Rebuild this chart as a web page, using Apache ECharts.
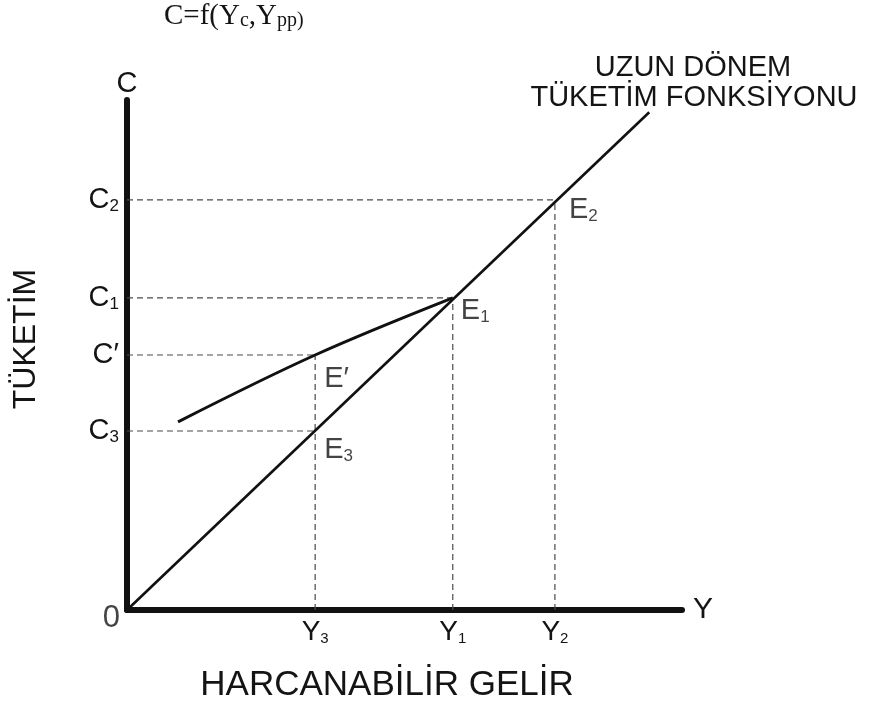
<!DOCTYPE html>
<html>
<head>
<meta charset="utf-8">
<script src="https://cdn.jsdelivr.net/npm/echarts@6.0.0/dist/echarts.min.js"></script>
<style>
  html, body { margin: 0; padding: 0; background: #ffffff; }
  #chart { width: 870px; height: 709px; }
</style>
</head>
<body>
<div id="chart"></div>
<script>
// Disposable income levels marked on the horizontal axis
const incomeNames = ['Y3', 'Y1', 'Y2'];
const incomeValues = [33.9, 58.7, 77.1];

// Consumption levels marked on the vertical axis
const consumptionNames = ['C3', 'C\u2032', 'C1', 'C2'];
const consumptionValues = [35.1, 50.0, 61.2, 80.4];

// Long-run consumption function, starting at the origin
const longRunLine = [[0, 0], [94.1, 97.6]];

// Short-run consumption function
const shortRunLine = [[9.2, 36.9], [33.9, 50.0], [58.7, 61.2]];

// Labelled points (income, consumption)
const pointNames = ['E3', 'E\u2032', 'E1', 'E2'];
const pointIncome = [33.9, 33.9, 58.7, 77.1];
const pointConsumption = [35.1, 50.0, 61.2, 80.4];

const INK = '#141414';
const SANS = '"Liberation Sans", Arial, sans-serif';
const SERIF = '"Liberation Serif", "Times New Roman", serif';

// "C3" -> "{b|C}{s|3}" ; a trailing digit is set as a subscript
function subscripted(name) {
  const m = /^(.*?)(\d+)$/.exec(name);
  return m ? '{b|' + m[1] + '}{s|' + m[2] + '}' : '{b|' + name + '}';
}
function labelRich(big, small) {
  return {
    b: { fontSize: big, fontFamily: SANS, color: INK, fontWeight: 'normal', verticalAlign: 'bottom', lineHeight: big },
    s: { fontSize: small, fontFamily: SANS, color: INK, fontWeight: 'normal', verticalAlign: 'bottom', lineHeight: big }
  };
}

// Dashed guides from each labelled point to both axes
const guideSeries = [];
const dashStyle = { color: '#4a4a4a', width: 1.2, type: [6, 4] };
pointIncome.forEach((x, i) => {
  const y = pointConsumption[i];
  guideSeries.push({ type: 'line', data: [[0, y], [x, y]] });
});
incomeValues.forEach((x) => {
  let top = 0;
  pointIncome.forEach((px, i) => { if (px === x) top = Math.max(top, pointConsumption[i]); });
  guideSeries.push({ type: 'line', data: [[x, 0], [x, top]] });
});
guideSeries.forEach((s) => {
  s.symbol = 'none';
  s.silent = true;
  s.lineStyle = dashStyle;
  s.z = 1;
});

// Label placement around each point, in pixels
const pointLabelOffsets = [[9, 5], [9, 9], [8, -1], [14, -4]];

const chart = echarts.init(document.getElementById('chart'), null, { renderer: 'canvas' });

chart.setOption({
  animation: false,
  backgroundColor: '#ffffff',
  title: {
    text: '{m|C=f(Y}{s|c}{m|,Y}{s|pp)}',
    left: 164,
    top: 0,
    padding: 0,
    textStyle: {
      fontWeight: 'normal',
      rich: {
        m: { fontSize: 29, fontFamily: SERIF, fontWeight: 'normal', color: INK, verticalAlign: 'bottom', lineHeight: 31 },
        s: { fontSize: 20, fontFamily: SERIF, fontWeight: 'normal', color: INK, verticalAlign: 'bottom', lineHeight: 31 }
      }
    }
  },
  grid: {
    left: 127, right: 188, top: 100, bottom: 99,
    containLabel: false,
    outerBoundsMode: 'none'
  },
  xAxis: {
    type: 'value',
    min: 0, max: 100,
    name: 'Y',
    nameLocation: 'end',
    nameGap: 11,
    nameTextStyle: { fontSize: 30, fontFamily: SANS, color: INK, verticalAlign: 'middle' },
    axisLine: { show: true, onZero: false, lineStyle: { color: '#111', width: 6 } },
    axisTick: { show: false },
    splitLine: { show: false },
    axisLabel: {
      show: true,
      customValues: incomeValues,
      margin: 8,
      color: INK,
      formatter: (v) => subscripted(incomeNames[incomeValues.indexOf(v)]),
      rich: labelRich(28, 15)
    }
  },
  yAxis: {
    type: 'value',
    min: 0, max: 100,
    name: 'C',
    nameLocation: 'end',
    nameGap: 2,
    nameTextStyle: { fontSize: 29, fontFamily: SANS, color: INK },
    axisLine: { show: true, onZero: false, lineStyle: { color: '#111', width: 6 } },
    axisTick: { show: false },
    splitLine: { show: false },
    axisLabel: {
      show: true,
      customValues: consumptionValues,
      margin: 8,
      color: INK,
      formatter: (v) => subscripted(consumptionNames[consumptionValues.indexOf(v)]),
      rich: labelRich(29, 17)
    }
  },
  graphic: [
    {
      type: 'text', x: 693, y: 68,
      style: { text: 'UZUN DÖNEM', font: '29px ' + SANS, fill: INK, textAlign: 'center', textVerticalAlign: 'middle' }
    },
    {
      type: 'text', x: 694, y: 98,
      style: { text: 'TÜKETİM FONKSİYONU', font: '29px ' + SANS, fill: INK, textAlign: 'center', textVerticalAlign: 'middle' }
    },
    {
      type: 'text', x: 26, y: 339, rotation: Math.PI / 2,
      style: { text: 'TÜKETİM', font: '32px ' + SANS, fill: INK, textAlign: 'center', textVerticalAlign: 'middle' }
    },
    {
      type: 'text', x: 387, y: 685,
      style: { text: 'HARCANABİLİR GELİR', font: '35px ' + SANS, fill: INK, textAlign: 'center', textVerticalAlign: 'middle' }
    }
  ],
  series: guideSeries.concat([
    {
      name: 'Uzun dönem',
      type: 'line',
      data: longRunLine,
      symbol: 'none',
      lineStyle: { color: '#111', width: 2.6 },
      z: 3
    },
    {
      name: 'Kısa dönem',
      type: 'line',
      data: shortRunLine,
      smooth: 0.35,
      symbol: 'none',
      lineStyle: { color: '#111', width: 3 },
      z: 3
    },
    {
      name: 'Noktalar',
      type: 'scatter',
      symbolSize: 0,
      data: pointIncome.map((x, i) => ({
        value: [x, pointConsumption[i]],
        label: { position: pointLabelOffsets[i], align: 'left', verticalAlign: 'top' }
      })),
      label: {
        show: true,
        color: INK,
        formatter: (p) => subscripted(pointNames[p.dataIndex]),
        rich: labelRich(29, 17)
      },
      z: 4
    },
    {
      name: 'Orijin',
      type: 'scatter',
      symbolSize: 0,
      data: [[0, 0]],
      label: {
        show: true,
        position: [-7, 8],
        align: 'right',
        verticalAlign: 'middle',
        formatter: '0',
        fontSize: 31,
        fontFamily: SANS,
        color: INK
      },
      z: 4
    }
  ])
});
</script>
</body>
</html>
